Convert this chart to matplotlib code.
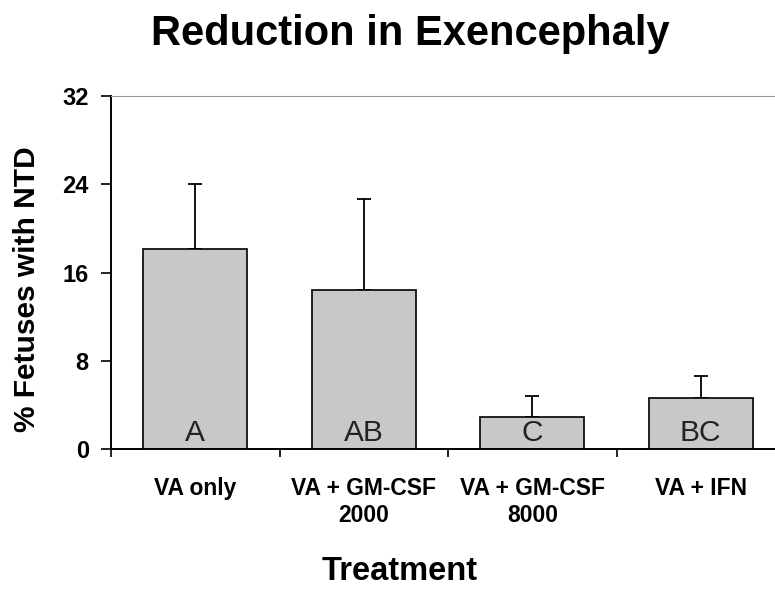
"""
Bar chart: reduction in exencephaly by treatment group.
"""

import matplotlib
matplotlib.use("Agg")
import matplotlib.pyplot as plt
import numpy as np

treatments = ["VA only", "VA + GM-CSF\n2000", "VA + GM-CSF\n8000", "VA + IFN"]
pct_ntd = [18.1, 14.4, 2.9, 4.6]
err_up = [5.9, 8.3, 1.9, 2.0]
groups = ["A", "AB", "C", "BC"]
y_ticks = [0, 8, 16, 24, 32]

FONT = ["Liberation Sans", "DejaVu Sans"]

fig = plt.figure(figsize=(7.75, 5.89), dpi=100)
ax = fig.add_axes([111 / 775, 140 / 589, 674 / 775, 353 / 589])

x = np.arange(len(treatments))
ax.bar(x, pct_ntd, width=0.62, color="#c8c8c8", edgecolor="black",
       linewidth=1.2, zorder=2)
ax.errorbar(x, pct_ntd, yerr=[np.zeros(len(x)), err_up], fmt="none",
            ecolor="black", elinewidth=1.3, capsize=4.7, capthick=1.3, zorder=1)

for xi, g in zip(x, groups):
    ax.text(xi, 0.7, g, ha="center", va="baseline", fontsize=21.5,
            family=FONT, color="#222222", zorder=3)

ax.set_xlim(-0.5, 3.5)
ax.set_ylim(0, 32)
ax.set_yticks(y_ticks)
ax.set_yticklabels([str(v) for v in y_ticks], fontsize=17, fontweight="bold",
                   family=FONT)
ax.tick_params(axis="y", direction="out", length=7, width=1.2, pad=9)

ax.set_xticks(x)
ax.set_xticklabels(treatments, fontsize=16.5, fontweight="bold", family=FONT,
                   linespacing=1.25)
ax.tick_params(axis="x", which="major", length=0, pad=20)
ax.set_xticks(np.arange(-0.5, 4.0, 1.0), minor=True)
ax.tick_params(axis="x", which="minor", direction="out", length=6, width=1.2)

for side in ("left", "bottom"):
    ax.spines[side].set_linewidth(1.4)
ax.spines["right"].set_visible(False)
ax.spines["top"].set_color("#999999")
ax.spines["top"].set_linewidth(0.8)

fig.text(27 / 775, 1 - 289 / 589, "% Fetuses with NTD", ha="center",
         va="center", rotation=90, fontsize=21.5, fontweight="bold", family=FONT)
fig.text(410 / 775, 1 - 34 / 589, "Reduction in Exencephaly", ha="center",
         va="center", fontsize=30, fontweight="bold", family=FONT)
fig.text(400 / 775, 1 - 571 / 589, "Treatment", ha="center", va="center",
         fontsize=23.5, fontweight="bold", family=FONT)

fig.savefig("out.png", dpi=100)
